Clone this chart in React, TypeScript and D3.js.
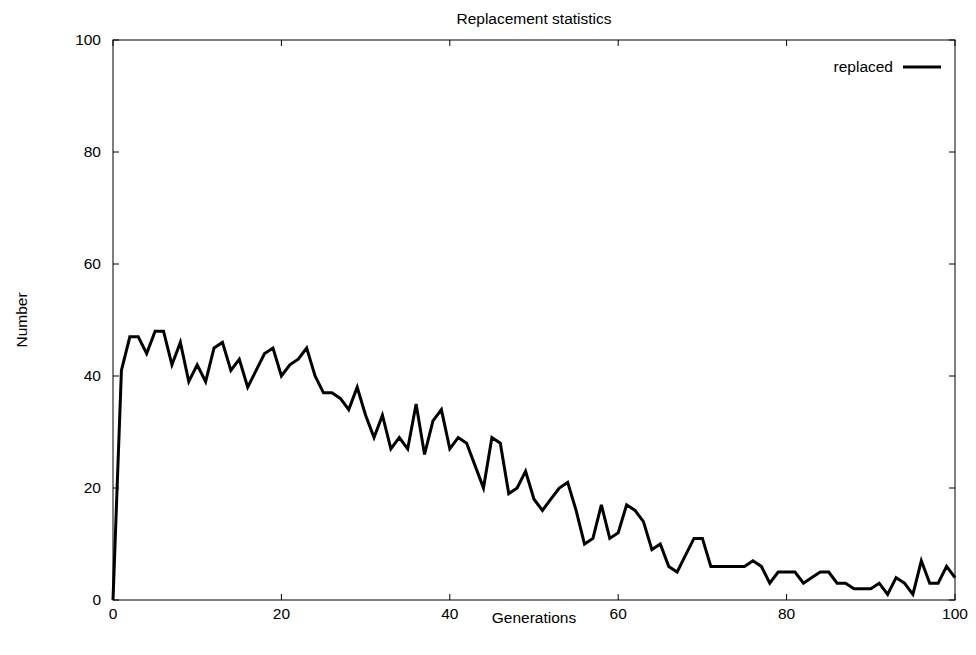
import React from "react";
import * as d3 from "d3";

// replaced individuals per generation
const generations = d3.range(0, 101);
const replaced = [
  0, 41, 47, 47, 44, 48, 48, 42, 46, 39, 42, 39, 45, 46, 41, 43, 38, 41, 44, 45,
  40, 42, 43, 45, 40, 37, 37, 36, 34, 38, 33, 29, 33, 27, 29, 27, 35, 26, 32, 34,
  27, 29, 28, 24, 20, 29, 28, 19, 20, 23, 18, 16, 18, 20, 21, 16, 10, 11, 17, 11,
  12, 17, 16, 14, 9, 10, 6, 5, 8, 11, 11, 6, 6, 6, 6, 6, 7, 6, 3, 5,
  5, 5, 3, 4, 5, 5, 3, 3, 2, 2, 2, 3, 1, 4, 3, 1, 7, 3, 3, 6,
  4,
];
const xTicks = [0, 20, 40, 60, 80, 100];
const yTicks = [0, 20, 40, 60, 80, 100];

const W = 976;
const H = 655;
const margin = { top: 40, right: 21, bottom: 55, left: 113 };
const font = "'Liberation Sans', Arial, sans-serif";
const fs = 15.5;

export default function App() {
  const w = W - margin.left - margin.right;
  const h = H - margin.top - margin.bottom;

  const x = d3.scaleLinear().domain([0, 100]).range([0, w]);
  const y = d3.scaleLinear().domain([0, 100]).range([h, 0]);

  const line = d3
    .line<number>()
    .x((_, i) => x(generations[i]))
    .y((d) => y(d));

  const tick = 6;

  return (
    <svg
      width={W}
      height={H}
      style={{ position: "absolute", left: 0, top: 0, background: "#fff" }}
      fontFamily={font}
    >
      <text x={margin.left + w / 2} y={24} textAnchor="middle" fontSize={fs}>
        Replacement statistics
      </text>
      <text
        transform={`translate(27,${margin.top + h / 2}) rotate(-90)`}
        textAnchor="middle"
        fontSize={fs}
      >
        Number
      </text>
      <text x={margin.left + w / 2} y={623} textAnchor="middle" fontSize={fs}>
        Generations
      </text>

      <g transform={`translate(${margin.left},${margin.top})`}>
        {/* ticks, mirrored on all four sides as gnuplot does */}
        {xTicks.map((t) => (
          <g key={"x" + t}>
            <line x1={x(t)} x2={x(t)} y1={h} y2={h - tick} stroke="#000" />
            <line x1={x(t)} x2={x(t)} y1={0} y2={tick} stroke="#000" />
            <text x={x(t)} y={h + 19} textAnchor="middle" fontSize={fs}>
              {t}
            </text>
          </g>
        ))}
        {yTicks.map((t) => (
          <g key={"y" + t}>
            <line x1={0} x2={tick} y1={y(t)} y2={y(t)} stroke="#000" />
            <line x1={w} x2={w - tick} y1={y(t)} y2={y(t)} stroke="#000" />
            <text x={-12} y={y(t) + 5} textAnchor="end" fontSize={fs}>
              {t}
            </text>
          </g>
        ))}

        <path
          d={line(replaced) || ""}
          fill="none"
          stroke="#000"
          strokeWidth={3}
          strokeLinejoin="miter"
        />

        <rect x={0} y={0} width={w} height={h} fill="none" stroke="#000" strokeWidth={1} />

        {/* legend */}
        <text x={780} y={32} textAnchor="end" fontSize={fs}>
          replaced
        </text>
        <line x1={790} x2={828} y1={27} y2={27} stroke="#000" strokeWidth={3} />
      </g>
    </svg>
  );
}
